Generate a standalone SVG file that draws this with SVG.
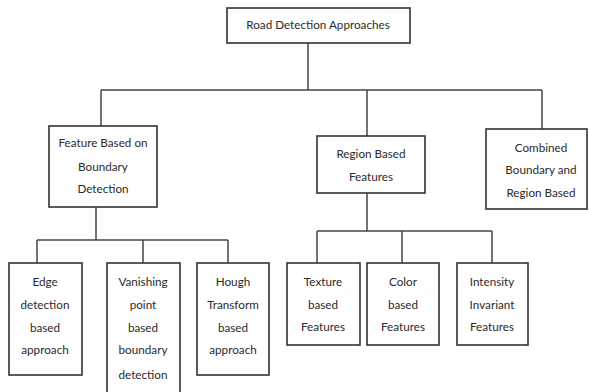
<svg xmlns="http://www.w3.org/2000/svg" width="589" height="392" viewBox="0 0 589 392">
<style>
rect{fill:#fff;stroke:#333;stroke-width:1.6}
.c line{stroke:#444;stroke-width:1.5}
text{font-family:Lato,"Open Sans",sans-serif;font-size:11.7px;fill:#2a2a2a;text-anchor:middle}
</style>
<rect x="0" y="0" width="589" height="392" style="stroke:none"/>
<g class="c" id="connectors">
<line x1="308" y1="43" x2="308" y2="90"/>
<line x1="101" y1="90" x2="542" y2="90"/>
<line x1="101" y1="90" x2="101" y2="126"/>
<line x1="367" y1="90" x2="367" y2="136"/>
<line x1="542" y1="90" x2="542" y2="129"/>
<line x1="96" y1="207" x2="96" y2="240"/>
<line x1="37" y1="240" x2="228" y2="240"/>
<line x1="37" y1="240" x2="37" y2="263"/>
<line x1="143" y1="240" x2="143" y2="263"/>
<line x1="228" y1="240" x2="228" y2="263"/>
<line x1="367" y1="193" x2="367" y2="231"/>
<line x1="317" y1="231" x2="492" y2="231"/>
<line x1="317" y1="231" x2="317" y2="263"/>
<line x1="402" y1="231" x2="402" y2="263"/>
<line x1="492" y1="231" x2="492" y2="263"/>
</g>
<g id="root"><rect x="227" y="8" width="183" height="35"/><text x="318" y="29">Road Detection Approaches</text></g>
<g id="feature"><rect x="49" y="126" width="108" height="81"/><text x="103" y="147">Feature Based on</text><text x="103" y="171">Boundary</text><text x="103" y="193">Detection</text></g>
<g id="region"><rect x="317" y="136" width="108" height="57"/><text x="371" y="158">Region Based</text><text x="371" y="181">Features</text></g>
<g id="combined"><rect x="486" y="129" width="101" height="80"/><text x="541" y="152">Combined</text><text x="541" y="174">Boundary and</text><text x="541" y="197">Region Based</text></g>
<g id="edge"><rect x="9" y="263" width="73" height="112"/><text x="45" y="286">Edge</text><text x="45" y="309">detection</text><text x="45" y="332">based</text><text x="45" y="354">approach</text></g>
<g id="vanishing"><rect x="107" y="263" width="73" height="135"/><text x="143" y="286">Vanishing</text><text x="143" y="309">point</text><text x="143" y="332">based</text><text x="143" y="354">boundary</text><text x="143" y="379">detection</text></g>
<g id="hough"><rect x="197" y="263" width="72" height="112"/><text x="233" y="286">Hough</text><text x="233" y="309">Transform</text><text x="233" y="332">based</text><text x="233" y="354">approach</text></g>
<g id="texture"><rect x="287" y="263" width="73" height="82"/><text x="323" y="286">Texture</text><text x="323" y="309">based</text><text x="323" y="331">Features</text></g>
<g id="color"><rect x="367" y="263" width="72" height="82"/><text x="403" y="286">Color</text><text x="403" y="309">based</text><text x="403" y="331">Features</text></g>
<g id="intensity"><rect x="457" y="263" width="71" height="82"/><text x="492" y="286">Intensity</text><text x="492" y="309">Invariant</text><text x="492" y="331">Features</text></g>
</svg>
